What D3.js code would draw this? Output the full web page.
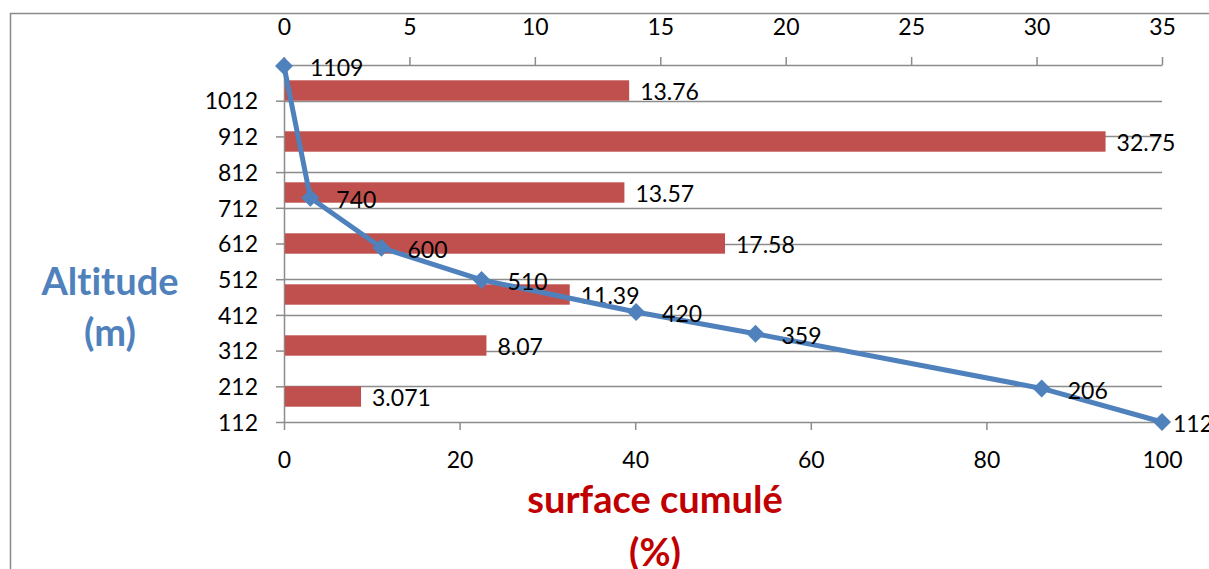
<!DOCTYPE html>
<html><head><meta charset="utf-8">
<script src="https://cdn.jsdelivr.net/npm/d3@7"></script>
<style>body{margin:0;background:#fff}svg{display:block}text{font-variant-ligatures:none;font-feature-settings:"liga" 0}</style>
</head><body>
<svg id="c" width="1209" height="569"></svg>
<script>
// Bars: surface (%) per altitude band, listed bottom to top
const bandNames = ["b1","b2","b3","b4","b5","b6","b7"];
const bandSurface = [3.071, 8.07, 11.39, 17.58, 13.57, 32.75, 13.76];
// Line: cumulative surface (%) vs altitude (m)
const cumSurface = [0, 3.0, 11.1, 22.5, 40.1, 53.7, 86.3, 100];
const altitudes = [1109, 740, 600, 510, 420, 359, 206, 112];
const altTicks = [112, 212, 312, 412, 512, 612, 712, 812, 912, 1012];
const topTicks = [0, 5, 10, 15, 20, 25, 30, 35];
const bottomTicks = [0, 20, 40, 60, 80, 100];

const svg = d3.select("#c");
const font = "Lato, 'Open Sans', sans-serif";
const fs = 23;
const L = 284, R = 1162, T = 65, B = 422;
const grid = "#8c8c8c";

svg.append("rect").attr("x", 10.5).attr("y", 13.5).attr("width", 1300).attr("height", 700)
  .attr("fill", "none").attr("stroke", "#8a8a8a").attr("stroke-width", 1.5);

const y = d3.scaleLinear().domain([112, 1112]).range([B, T]);
const xTop = d3.scaleLinear().domain([0, 35]).range([L, R]);
const xBot = d3.scaleLinear().domain([0, 100]).range([L, R]);
const yBand = d3.scaleBand().domain(bandNames).range([B, T]).paddingInner(0.6).paddingOuter(0.3);

// gridlines
svg.append("g").selectAll("line").data(altTicks.slice(1)).join("line")
  .attr("x1", L).attr("x2", R).attr("y1", d => Math.round(y(d)) + 0.5).attr("y2", d => Math.round(y(d)) + 0.5)
  .attr("stroke", grid).attr("stroke-width", 1.5);

function styleAxis(g) {
  g.selectAll("path,line").attr("stroke", grid).attr("stroke-width", 1.5);
  g.selectAll("text").attr("font-family", font).attr("font-size", fs).attr("fill", "#000");
}
const fmt = d3.format("d");
const gl = svg.append("g").attr("transform", `translate(${L},0)`)
  .call(d3.axisLeft(y).tickValues(altTicks).tickFormat(fmt).tickSize(8).tickSizeOuter(0).tickPadding(18));
styleAxis(gl); gl.selectAll("text").attr("dy", "0.36em");
const gt = svg.append("g").attr("transform", `translate(0,${T})`)
  .call(d3.axisTop(xTop).tickValues(topTicks).tickFormat(fmt).tickSize(8).tickSizeOuter(0).tickPadding(22));
styleAxis(gt);
const gb = svg.append("g").attr("transform", `translate(0,${B})`)
  .call(d3.axisBottom(xBot).tickValues(bottomTicks).tickFormat(fmt).tickSize(8).tickSizeOuter(0).tickPadding(22));
styleAxis(gb);

// bars
svg.append("g").selectAll("rect").data(bandSurface).join("rect")
  .attr("x", xTop(0) + 1).attr("y", (d, i) => yBand(bandNames[i]))
  .attr("width", d => xTop(d) - xTop(0) - 1).attr("height", yBand.bandwidth())
  .attr("fill", "#C0504D");
svg.append("g").selectAll("text").data(bandSurface).join("text")
  .attr("x", d => xTop(d) + 11).attr("y", (d, i) => yBand(bandNames[i]) + yBand.bandwidth() / 2 + 1)
  .attr("dy", "0.36em").attr("font-family", font).attr("font-size", fs).text(d => d);

// line
const pts = cumSurface.map((c, i) => [xBot(c), y(altitudes[i])]);
svg.append("path").attr("d", d3.line()(pts)).attr("fill", "none")
  .attr("stroke", "#4F81BD").attr("stroke-width", 5).attr("stroke-linejoin", "round");
svg.append("g").selectAll("path").data(pts).join("path")
  .attr("d", d => `M${d[0]},${d[1]-9}L${d[0]+9},${d[1]}L${d[0]},${d[1]+9}L${d[0]-9},${d[1]}Z`)
  .attr("fill", "#4F81BD");
svg.append("g").selectAll("text").data(pts).join("text")
  .attr("x", (d, i) => d[0] + (i === pts.length - 1 ? 11 : 26)).attr("y", d => d[1] + 2).attr("dy", "0.36em")
  .attr("font-family", font).attr("font-size", fs).text((d, i) => altitudes[i]);

// axis titles
const at = svg.append("text").attr("text-anchor", "middle").attr("font-family", font)
  .attr("font-weight", "bold").attr("font-size", 38).attr("fill", "#4F81BD");
at.append("tspan").attr("x", 110).attr("y", 295).text("Altitude");
at.append("tspan").attr("x", 110).attr("y", 346).text("(m)");
const bt = svg.append("text").attr("text-anchor", "middle").attr("font-family", font)
  .attr("font-weight", "bold").attr("font-size", 38).attr("fill", "#C00000");
bt.append("tspan").attr("x", 655).attr("y", 513).text("surface cumulé");
bt.append("tspan").attr("x", 655).attr("y", 566).text("(%)");
</script>
</body></html>
